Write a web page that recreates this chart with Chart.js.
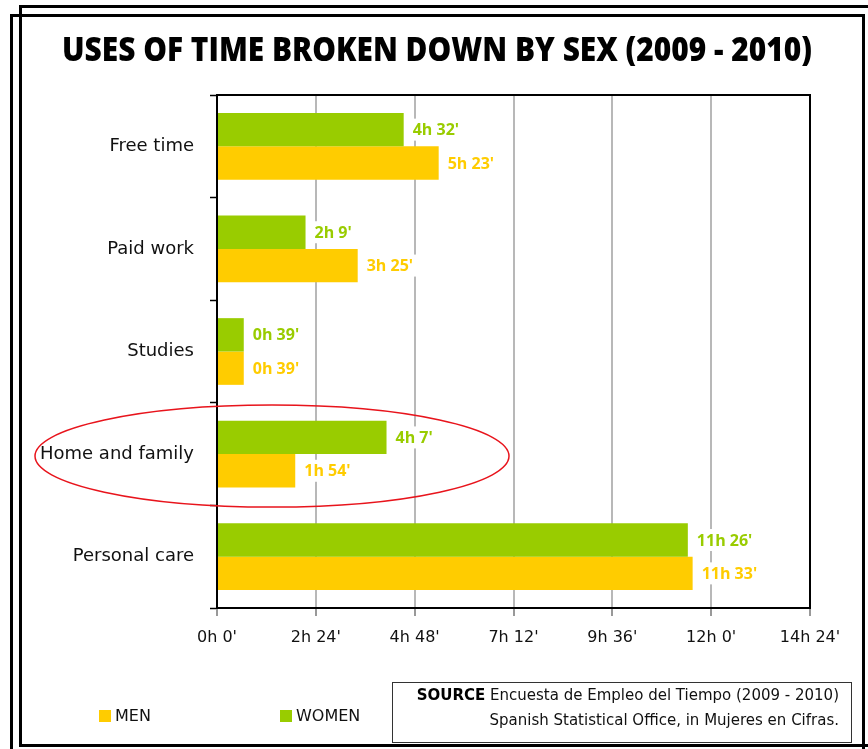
<!DOCTYPE html>
<html>
<head>
<meta charset="utf-8">
<script src="https://cdn.jsdelivr.net/npm/chart.js@4/dist/chart.umd.min.js"></script>
<style>
  html, body { margin:0; padding:0; background:#fff; }
  body { width:868px; height:749px; position:relative; overflow:hidden; }
  #frameA { position:absolute; left:10px; top:14px; width:855px; height:800px; border:3px solid #000; box-sizing:border-box; }
  #frameB { position:absolute; left:19px; top:5px; width:900px; height:742px; border:3px solid #000; box-sizing:border-box; }
  #wrap { position:absolute; left:0; top:0; width:868px; height:749px; }
  #titleSpan { position:absolute; left:62px; top:25px; white-space:nowrap; transform-origin:left top;
           font-family:'Open Sans','DejaVu Sans',sans-serif; font-weight:800; font-size:34px; color:#000; }
  .leg { position:absolute; top:706px; font-family:'DejaVu Sans',sans-serif; font-size:16px; color:#111; }
  .leg i { display:inline-block; width:12px; height:12px; margin-right:4px; vertical-align:-1px; }
  #source { position:absolute; left:392px; top:682px; width:460px; height:61px; box-sizing:border-box;
            border:1.5px solid #333; font-family:'DejaVu Sans',sans-serif; font-size:15px; color:#111;
            text-align:right; padding:0 12px 0 0; line-height:25px; padding-top:0px; }
  #source b { font-weight:bold; color:#000; }
</style>
</head>
<body>
<div id="frameB"></div>
<div id="frameA"></div>
<div id="wrap"><canvas id="c"></canvas></div>
<span id="titleSpan">USES OF TIME BROKEN DOWN BY SEX (2009 - 2010)</span>
<div class="leg" style="left:99px"><i style="background:#FFCC00"></i>MEN</div>
<div class="leg" style="left:280px"><i style="background:#99CC00"></i>WOMEN</div>
<div id="source"><b>SOURCE</b> Encuesta de Empleo del Tiempo (2009 - 2010)<br>Spanish Statistical Office, in Mujeres en Cifras.</div>
<script>
// ---- data (minutes per day) ----
const categories = ['Free time', 'Paid work', 'Studies', 'Home and family', 'Personal care'];
const womenMinutes = [272, 129, 39, 247, 686];
const menMinutes = [323, 205, 39, 114, 693];
const xTickValues = [0, 144, 288, 432, 576, 720, 864];
const xTickLabels = ["0h 0'", "2h 24'", "4h 48'", "7h 12'", "9h 36'", "12h 0'", "14h 24'"];
const seriesNames = ['WOMEN', 'MEN'];
const seriesColors = ['#99CC00', '#FFCC00'];

// fit title width (reference spans x 62..812)
(function(){
  const s = document.getElementById('titleSpan');
  const w = s.getBoundingClientRect().width;
  if (w > 0) s.style.transform = 'scaleX(' + (750 / w) + ')';
})();

function fmt(m) { return Math.floor(m / 60) + 'h ' + (m % 60) + "'"; }

const valueLabels = {
  id: 'valueLabels',
  afterDatasetsDraw(chart) {
    const ctx = chart.ctx;
    ctx.save();
    ctx.font = "bold 16px 'Open Sans', sans-serif";
    ctx.textBaseline = 'middle';
    chart.data.datasets.forEach((ds, i) => {
      const meta = chart.getDatasetMeta(i);
      meta.data.forEach((bar, j) => {
        const txt = fmt(ds.data[j]);
        const w = ctx.measureText(txt).width;
        const x = bar.x + 9, y = bar.y;
        ctx.fillStyle = '#fff';
        ctx.fillRect(x - 3, y - 11, w + 8, 22);
        ctx.fillStyle = ds.backgroundColor;
        ctx.fillText(txt, x, y + 1);
      });
    });
    ctx.restore();
  },
  afterDraw(chart) {
    const ctx = chart.ctx, a = chart.chartArea;
    ctx.save();
    ctx.strokeStyle = '#000';
    ctx.lineWidth = 2;
    ctx.strokeRect(a.left, a.top, a.right - a.left, a.bottom - a.top);
    // red ellipse highlighting "Home and family"
    const yc = chart.scales.y.getPixelForValue(3) + 2;
    ctx.beginPath();
    ctx.ellipse(a.left + 55, yc, 237, 51, 0, 0, Math.PI * 2);
    ctx.strokeStyle = '#e8141c';
    ctx.lineWidth = 1.5;
    ctx.stroke();
    ctx.restore();
  }
};

new Chart(document.getElementById('c'), {
  type: 'bar',
  data: {
    labels: categories,
    datasets: [
      { label: seriesNames[0], data: womenMinutes, backgroundColor: seriesColors[0] },
      { label: seriesNames[1], data: menMinutes, backgroundColor: seriesColors[1] }
    ]
  },
  options: {
    indexAxis: 'y',
    responsive: true,
    maintainAspectRatio: false,
    animation: false,
    categoryPercentage: 0.65,
    barPercentage: 1.0,
    layout: { padding: { top: 95, right: 58, left: 0, bottom: 96 } },
    plugins: { legend: { display: false }, tooltip: { enabled: false } },
    scales: {
      x: {
        min: 0, max: 864,
        afterBuildTicks(scale) { scale.ticks = xTickValues.map(v => ({ value: v })); },
        afterFit(scale) { scale.height = 45; },
        ticks: {
          callback: (v, i) => xTickLabels[i],
          font: { family: "'DejaVu Sans', sans-serif", size: 16 },
          color: '#111',
          padding: 12,
          maxRotation: 0
        },
        grid: { color: '#b8b8b8', lineWidth: 2, tickLength: 8, tickColor: '#777', tickWidth: 1.5 },
        border: { color: '#000', width: 2 }
      },
      y: {
        afterFit(scale) { scale.width = 217; },
        ticks: {
          font: { family: "'DejaVu Sans', sans-serif", size: 18 },
          color: '#111',
          padding: 16
        },
        grid: { drawOnChartArea: false, tickLength: 7, tickColor: '#000', tickWidth: 1.5, offset: true },
        border: { color: '#000', width: 2 }
      }
    }
  },
  plugins: [valueLabels]
});
</script>
</body>
</html>
